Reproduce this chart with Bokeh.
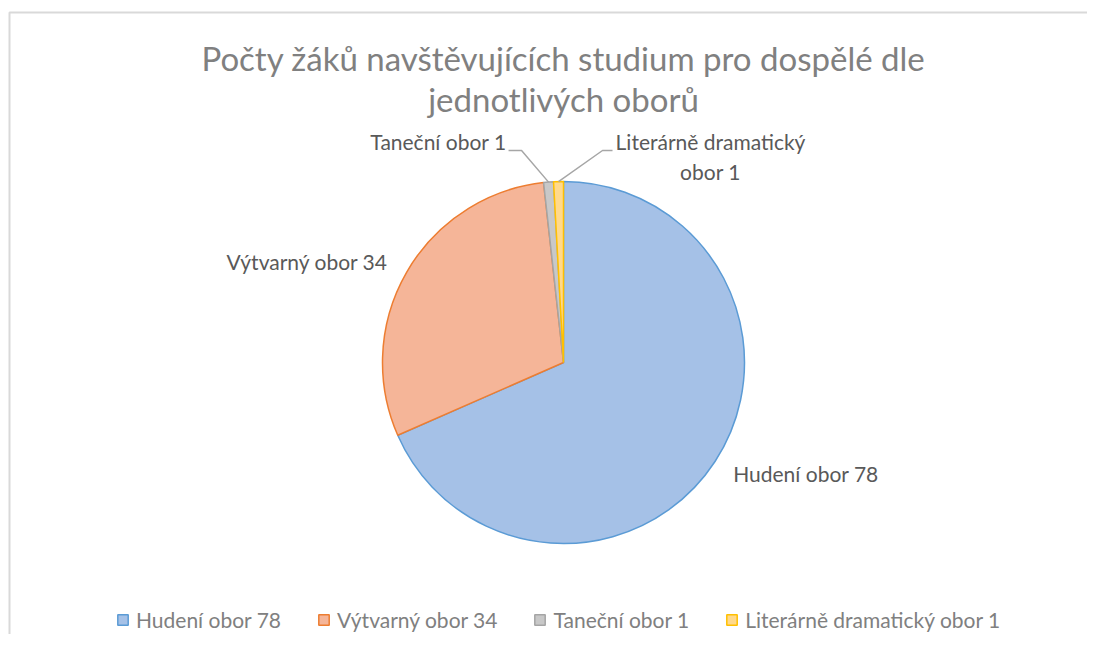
import math
from bokeh.plotting import figure
from bokeh.models import ColumnDataSource, Range1d, Legend, LegendItem, Label
from bokeh.embed import file_html
from bokeh.resources import INLINE
from bokeh.core.properties import value

# ---------------- data ----------------
title_lines = ["Počty žáků navštěvujících studium pro dospělé dle", "jednotlivých oborů"]
categories = ["Hudení obor", "Výtvarný obor", "Taneční obor", "Literárně dramatický obor"]
counts = [78, 34, 1, 1]

# ---------------- styles ----------------
fill_colors = ["#a5c1e7", "#f5b598", "#c8c8c8", "#ffd98c"]
line_colors = ["#5b9bd5", "#ed7d31", "#a5a5a5", "#ffc000"]
FONT = "Lato"
W, H = 1087, 634


def Y(py):  # page pixel y -> data y
    return H - py


cx, cy, R = 563, Y(362), 181

total = sum(counts)
starts, ends, mids, labels = [], [], [], []
cum = 0
for c, v in zip(categories, counts):
    a0 = math.pi / 2 - 2 * math.pi * cum / total
    a1 = math.pi / 2 - 2 * math.pi * (cum + v) / total
    starts.append(a0)
    ends.append(a1)
    mids.append((a0 + a1) / 2)
    labels.append(f"{c} {v}")
    cum += v

src = ColumnDataSource(dict(cat=labels, start=starts, end=ends,
                            fill=fill_colors, line=line_colors,
                            x=[cx] * len(counts), y=[cy] * len(counts)))

p = figure(width=W, height=H, x_range=Range1d(0, W), y_range=Range1d(0, H),
           output_backend="svg", toolbar_location=None, min_border=0,
           x_axis_location=None, y_axis_location=None)
p.grid.visible = False
p.outline_line_color = None
p.background_fill_color = "white"
p.border_fill_color = "white"

# chart frame (top and left edges visible in the crop)
p.line([9, 9, 1200], [Y(700), Y(12), Y(12)], line_color="#d9d9d9", line_width=2)

wr = p.wedge(x="x", y="y", radius=R, start_angle="start", end_angle="end",
             direction="clock", fill_color="fill", line_color="line",
             line_width=1.5, source=src)

# data labels for the big slices
bx, by, ba = [], [], []
for i in range(2):
    m = mids[i]
    bx.append(cx + 1.12 * R * math.cos(m))
    by.append(cy + 1.12 * R * math.sin(m))
    ba.append("left" if math.cos(m) > 0 else "right")
p.text(x=bx, y=by, text=labels[:2], text_align=ba, text_baseline="middle",
       text_font=value(FONT), text_font_size="21px", text_color="#595959")

# small slices: leader lines + labels above the pie
elbow_dx = [-27, 44]
tail = [-13, 10]
lxs, lys = [], []
for k, i in enumerate([2, 3]):
    m = mids[i]
    ex, ey = cx + R * math.cos(m), cy + R * math.sin(m)
    bxp, byp = ex + elbow_dx[k], cy + R + 31
    lxs.append([ex, bxp, bxp + tail[k]])
    lys.append([ey, byp, byp])
p.multi_line(xs=lxs, ys=lys, line_color="#a6a6a6", line_width=1.5)

p.text(x=[lxs[0][2] - 2], y=[Y(141)], text=[labels[2]], text_align="right",
       text_baseline="middle", text_font=value(FONT), text_font_size="21px",
       text_color="#595959")
p.text(x=[710], y=[Y(156)], text=["Literárně dramatický\n" + f"obor {counts[3]}"],
       text_align="center", text_baseline="middle", text_line_height=1.2,
       text_font=value(FONT), text_font_size="21px", text_color="#595959")

# title
for t, py in zip(title_lines, [57, 98]):
    p.add_layout(Label(x=563, y=Y(py), text=t, text_align="center", text_baseline="middle",
                       text_font=FONT, text_font_size="33px", text_color="#808080",
                       text_font_style="normal"))

legend = Legend(items=[LegendItem(label=labels[i], renderers=[wr], index=i) for i in range(len(counts))],
                orientation="horizontal", location=(116, 2), glyph_width=13, glyph_height=13,
                label_standoff=7, spacing=36, padding=0, margin=0,
                border_line_color=None, background_fill_alpha=0,
                label_text_font=FONT, label_text_font_size="21px", label_text_color="#808080")
p.add_layout(legend)

open("out.html", "w").write(file_html(p, INLINE))
